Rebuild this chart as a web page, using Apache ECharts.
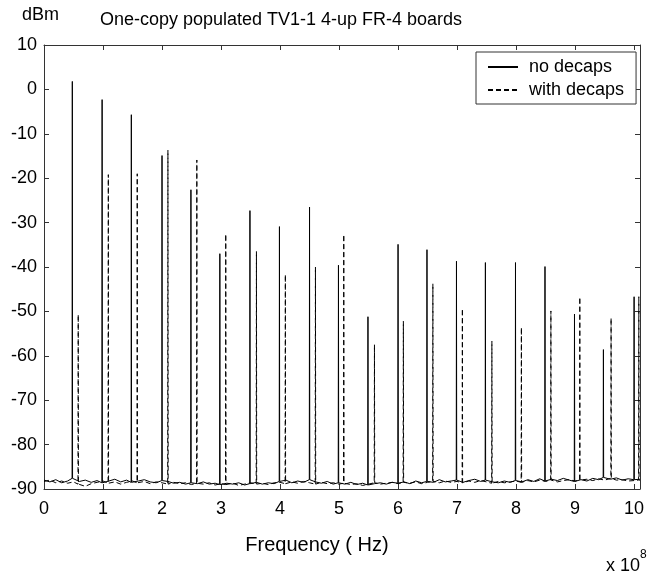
<!DOCTYPE html>
<html>
<head>
<meta charset="utf-8">
<title>One-copy populated TV1-1 4-up FR-4 boards</title>
<script src="https://cdn.jsdelivr.net/npm/echarts@6/dist/echarts.min.js"></script>
<style>
  html, body { margin: 0; padding: 0; background: #fff; }
  #chart { width: 648px; height: 581px; }
</style>
</head>
<body>
<div id="chart"></div>
<script>
// frequency axis is in units of 10^8 Hz, levels in dBm
const font = "'Liberation Sans', Arial, Helvetica, sans-serif";

// noise floor, one value every 0.1 (x 10^8 Hz), from 0 to 10.1
const floorStep = 0.1;
const noFloor = [
  -88.0, -88.4, -87.9, -88.6, -88.2, -87.6, -88.3, -88.0, -88.5, -88.1,
  -88.6, -88.2, -87.8, -88.4, -88.0, -88.5, -88.2, -87.9, -88.4, -88.6,
  -88.1, -88.3, -88.7, -88.5, -88.9, -88.6, -88.8, -88.4, -88.9, -88.7,
  -89.0, -88.7, -88.9, -88.6, -89.1, -88.8, -88.5, -88.9, -88.6, -88.8,
  -88.3, -88.0, -88.6, -88.2, -88.5, -87.9, -88.4, -88.7, -88.3, -88.9,
  -88.6, -88.9, -88.5, -89.0, -88.7, -89.1, -88.8, -88.6, -88.9, -88.5,
  -88.7, -88.4, -88.8, -88.2, -88.6, -88.3, -88.5, -87.9, -88.4, -88.2,
  -88.0, -88.5, -88.1, -87.8, -88.3, -88.0, -88.4, -88.6, -88.2, -88.5,
  -88.1, -88.4, -87.9, -88.3, -87.7, -88.2, -87.8, -88.1, -87.6, -88.0,
  -88.3, -87.9, -88.2, -87.6, -87.9, -87.4, -87.8, -87.5, -88.0, -87.7,
  -87.9, -87.8
];
const withFloor = [
  -88.3, -88.0, -88.6, -88.2, -88.7, -88.4, -88.9, -89.4, -88.8, -88.5,
  -88.2, -88.7, -88.4, -88.9, -88.5, -88.2, -88.6, -88.3, -88.8, -88.4,
  -88.6, -88.9, -88.5, -88.8, -88.6, -89.0, -88.7, -88.9, -88.6, -89.1,
  -88.8, -89.0, -88.7, -89.2, -88.9, -88.6, -88.9, -88.7, -89.0, -88.6,
  -88.5, -88.8, -88.4, -88.7, -88.3, -88.6, -88.9, -88.5, -88.8, -88.6,
  -88.9, -88.7, -89.0, -88.8, -89.2, -88.9, -88.6, -88.9, -88.7, -88.5,
  -88.8, -88.5, -88.7, -88.4, -88.8, -88.5, -88.3, -88.6, -88.2, -88.5,
  -88.3, -88.6, -88.2, -88.5, -88.1, -88.4, -88.7, -88.3, -88.6, -88.4,
  -88.2, -88.5, -88.1, -88.4, -88.0, -88.3, -88.0, -88.4, -88.1, -87.9,
  -88.2, -88.0, -87.8, -88.1, -87.7, -88.0, -87.6, -88.0, -87.9, -88.2,
  -88.1, -88.0
];

// harmonic spikes: where they sit and how high they reach
const noFreq = [0.48, 0.985, 1.48, 2.0, 2.49, 2.98, 3.49, 3.99, 4.5, 4.99,
  5.49, 6.0, 6.49, 6.99, 7.48, 7.99, 8.49, 8.99, 9.48, 10.0];
const noPeak = [1.8, -2.3, -5.7, -14.9, -22.6, -37.0, -27.3, -30.9, -26.5, -39.6,
  -51.2, -34.9, -36.1, -38.7, -39.0, -39.0, -39.9, -50.6, -58.6, -46.7];
const withFreq = [0.58, 1.09, 1.58, 2.1, 2.59, 3.08, 3.6, 4.09, 4.6, 5.08,
  5.6, 6.09, 6.59, 7.09, 7.59, 8.09, 8.59, 9.08, 9.61, 10.08];
const withPeak = [-50.7, -19.2, -19.0, -13.7, -15.9, -32.6, -36.5, -41.7, -40.0, -32.7,
  -57.5, -52.2, -43.8, -49.4, -56.7, -53.6, -49.9, -46.8, -51.5, -46.7];

const xMin = 0, xMax = 10.1, xStep = 1;
const yMin = -90, yMax = 10, yStep = 10;

// floor samples plus a narrow up-and-down stroke for every spike
function buildLine (floor, freqs, peaks) {
  let pts = [];
  floor.forEach((v, i) => {
    let x = +(i * floorStep).toFixed(2);
    let nearSpike = freqs.some(f => Math.abs(f - x) < 0.01);
    if (!nearSpike) pts.push([x, v]);
  });
  freqs.forEach((f, k) => {
    let base = floor[Math.min(floor.length - 1, Math.round(f / floorStep))];
    pts.push([f - 0.004, base], [f, peaks[k]], [f + 0.004, base]);
  });
  pts.sort((a, b) => a[0] - b[0]);
  return pts;
}

const axisColor = '#333';
const tickOnly = {
  axisLine: { show: true, onZero: false, lineStyle: { color: axisColor, width: 1 } },
  axisTick: { show: true, inside: true, length: 5, lineStyle: { color: axisColor } },
  splitLine: { show: false }
};

let chart = echarts.init(document.getElementById('chart'), null, { renderer: 'canvas' });

chart.setOption({
  backgroundColor: '#fff',
  animation: false,
  textStyle: { fontFamily: font },
  grid: { left: 44, right: 8, top: 45, bottom: 92 },
  xAxis: [
    Object.assign({
      type: 'value', min: xMin, max: xMax, interval: xStep, position: 'bottom',
      axisLabel: {
        color: '#000', fontSize: 18, margin: 11, fontFamily: font,
        formatter: v => (Number.isInteger(v) ? String(v) : '')
      }
    }, tickOnly),
    Object.assign({
      type: 'value', min: xMin, max: xMax, interval: xStep, position: 'top',
      axisLabel: { show: false }
    }, tickOnly)
  ],
  yAxis: [
    Object.assign({
      type: 'value', min: yMin, max: yMax, interval: yStep, position: 'left',
      axisLabel: { color: '#000', fontSize: 18, margin: 7, fontFamily: font }
    }, tickOnly),
    Object.assign({
      type: 'value', min: yMin, max: yMax, interval: yStep, position: 'right',
      axisLabel: { show: false }
    }, tickOnly)
  ],
  legend: {
    left: 476, top: 52, orient: 'vertical',
    itemWidth: 30, itemHeight: 16, itemGap: 5,
    padding: [6, 12, 5, 11],
    borderColor: '#333', borderWidth: 1, backgroundColor: '#fff',
    itemStyle: { opacity: 0 },
    textStyle: { color: '#000', fontSize: 18, lineHeight: 16, fontFamily: font, padding: [0, 0, 0, 6] },
    data: ['no decaps', 'with decaps']
  },
  graphic: [
    { type: 'text', left: 22, top: 6, style: { text: 'dBm', fill: '#000', font: '18px ' + font } },
    { type: 'text', x: 281, y: 20, style: { text: 'One-copy populated TV1-1 4-up FR-4 boards', fill: '#000', font: '18px ' + font, align: 'center', verticalAlign: 'middle' } },
    { type: 'text', x: 317, y: 545, style: { text: 'Frequency ( Hz)', fill: '#000', font: '20px ' + font, align: 'center', verticalAlign: 'middle' } },
    { type: 'text', x: 606, y: 566, style: { text: 'x 10', fill: '#000', font: '18px ' + font, verticalAlign: 'middle' } },
    { type: 'text', x: 640, y: 555, style: { text: '8', fill: '#000', font: '12px ' + font, verticalAlign: 'middle' } }
  ],
  series: [
    {
      name: 'no decaps', type: 'line', xAxisIndex: 0, yAxisIndex: 0,
      data: buildLine(noFloor, noFreq, noPeak),
      symbol: 'none', z: 3,
      itemStyle: { color: '#000' },
      lineStyle: { color: '#000', width: 1 }
    },
    {
      name: 'with decaps', type: 'line', xAxisIndex: 0, yAxisIndex: 0,
      data: buildLine(withFloor, withFreq, withPeak),
      symbol: 'none', z: 2,
      itemStyle: { color: '#000' },
      lineStyle: { color: '#000', width: 1, type: [5, 3] }
    }
  ]
});
</script>
</body>
</html>
